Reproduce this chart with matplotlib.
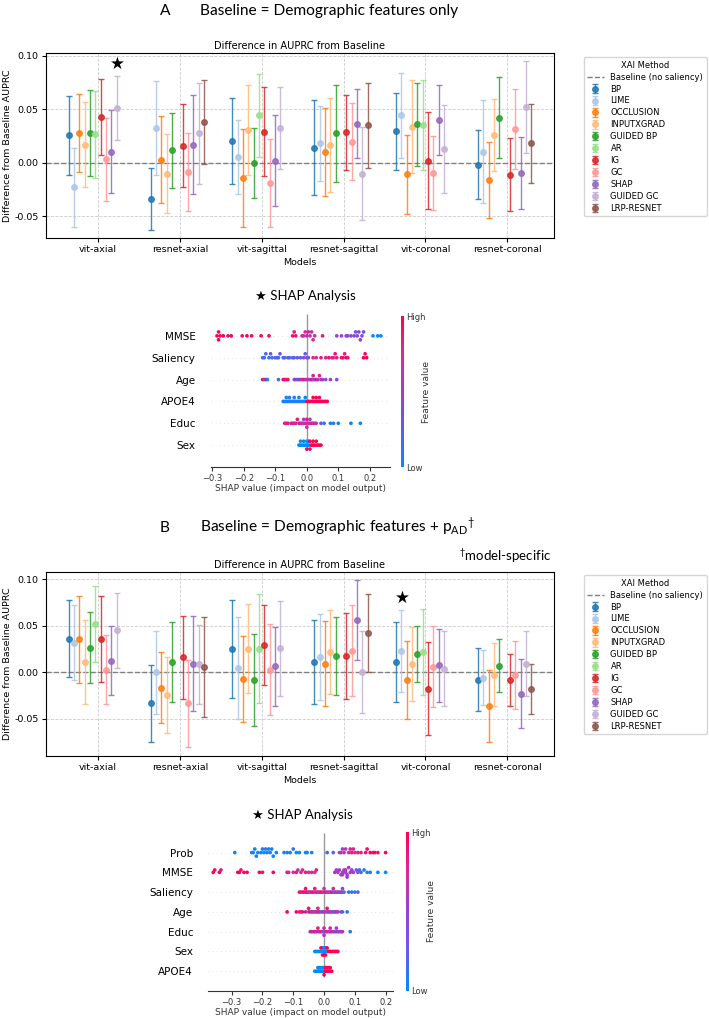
import numpy as np
import matplotlib
matplotlib.use("Agg")
import matplotlib.pyplot as plt
from matplotlib.colors import LinearSegmentedColormap
from matplotlib.cm import ScalarMappable
from matplotlib.ticker import MultipleLocator, FormatStrFormatter

plt.rcParams['mathtext.fontset'] = 'custom'
plt.rcParams['mathtext.rm'] = 'Lato'
plt.rcParams['mathtext.it'] = 'Lato:italic'

# ---- bar chart data (difference in AUPRC, mean and CI half width) ----
models = ['vit-axial', 'resnet-axial', 'vit-sagittal', 'resnet-sagittal', 'vit-coronal', 'resnet-coronal']
methods = ['BP', 'LIME', 'OCCLUSION', 'INPUTXGRAD', 'GUIDED BP', 'AR', 'IG', 'GC', 'SHAP', 'GUIDED GC', 'LRP-RESNET']
nan = np.nan

mean_a = [
    [0.0254, -0.0339, 0.0201, 0.0141, 0.0295, -0.0019],
    [-0.0232, 0.0323, 0.0056, 0.0179, 0.0442, 0.0103],
    [0.0273, 0.0028, -0.0144, 0.0097, -0.0110, -0.0163],
    [0.0169, -0.0103, 0.0301, 0.0163, 0.0335, 0.0260],
    [0.0279, 0.0116, -0.0006, 0.0273, 0.0357, 0.0420],
    [0.0263, nan, 0.0442, nan, 0.0348, nan],
    [0.0429, 0.0160, 0.0288, 0.0285, 0.0019, -0.0113],
    [0.0031, -0.0085, -0.0191, 0.0194, -0.0094, 0.0317],
    [0.0103, 0.0169, 0.0016, 0.0364, 0.0398, -0.0097],
    [0.0514, 0.0273, 0.0326, -0.0103, 0.0125, 0.0520],
    [nan, 0.0379, nan, 0.0351, nan, 0.0182],
]
err_a = [
    [0.037, 0.029, 0.040, 0.044, 0.036, 0.032],
    [0.037, 0.044, 0.0345, 0.035, 0.0395, 0.048],
    [0.0365, 0.041, 0.0456, 0.041, 0.0367, 0.0355],
    [0.040, 0.037, 0.042, 0.044, 0.0434, 0.0334],
    [0.040, 0.035, 0.0325, 0.045, 0.039, 0.038],
    [0.041, nan, 0.0385, nan, 0.042, nan],
    [0.0355, 0.0385, 0.0415, 0.035, 0.045, 0.034],
    [0.039, 0.0365, 0.041, 0.036, 0.0345, 0.0375],
    [0.039, 0.0464, 0.0425, 0.032, 0.033, 0.034],
    [0.030, 0.047, 0.0385, 0.0435, 0.041, 0.043],
    [nan, 0.039, nan, 0.0397, nan, 0.037],
]
mean_b = [
    [0.0361, -0.0336, 0.0246, 0.0111, 0.0114, -0.0082],
    [0.0318, 0.0000, 0.0046, 0.0164, 0.0225, -0.0057],
    [0.0354, -0.0168, -0.0071, 0.0093, -0.0082, -0.0368],
    [0.0111, -0.0243, 0.0253, 0.0218, 0.0089, -0.0025],
    [0.0264, 0.0111, -0.0082, 0.0175, 0.0196, 0.0071],
    [0.0518, nan, 0.0253, nan, 0.0214, nan],
    [0.0354, 0.0161, 0.0289, 0.0171, -0.0179, -0.0082],
    [0.0029, -0.0336, 0.0029, 0.0232, 0.0061, -0.0032],
    [0.0125, 0.0093, 0.0064, 0.0564, 0.0075, -0.0232],
    [0.0450, 0.0086, 0.0257, 0.0000, 0.0039, 0.0093],
    [nan, 0.0057, nan, 0.0421, nan, -0.0182],
]
err_b = [
    [0.041, 0.041, 0.0525, 0.045, 0.043, 0.034],
    [0.040, 0.0445, 0.055, 0.046, 0.044, 0.030],
    [0.047, 0.038, 0.046, 0.046, 0.042, 0.0387],
    [0.045, 0.041, 0.048, 0.045, 0.040, 0.0336],
    [0.038, 0.0433, 0.0495, 0.0423, 0.0304, 0.0286],
    [0.0405, nan, 0.0585, nan, 0.046, nan],
    [0.046, 0.0448, 0.043, 0.0463, 0.050, 0.0277],
    [0.037, 0.047, 0.0485, 0.049, 0.0437, 0.0366],
    [0.037, 0.0507, 0.0422, 0.0428, 0.039, 0.037],
    [0.040, 0.0425, 0.051, 0.044, 0.0407, 0.035],
    [nan, 0.0537, nan, 0.042, nan, 0.027],
]

# ---- SHAP beeswarm data: shap values and feature value (0 low .. 1 high) ----
feat_a = ['MMSE', 'Saliency', 'Age', 'APOE4', 'Educ', 'Sex']
shap_a = [
    [-0.285, -0.28, -0.28, -0.275, -0.265, -0.25, -0.24, -0.205, -0.19, -0.175, -0.145, -0.12,
     -0.045, -0.04, -0.035, -0.015, -0.01, -0.005, 0.0, 0.005, 0.01, 0.015, 0.02, 0.025, 0.05,
     0.095, 0.11, 0.125, 0.13, 0.14, 0.15, 0.155, 0.16, 0.165, 0.17, 0.175, 0.18, 0.21, 0.225, 0.235],
    [-0.14, -0.135, -0.13, -0.12, -0.115, -0.11, -0.1, -0.095, -0.09, -0.085, -0.075, -0.07, -0.06,
     -0.055, -0.045, -0.04, -0.03, -0.02, -0.01, -0.005, 0.0, 0.005, 0.02, 0.03, 0.045, 0.06, 0.07,
     0.08, 0.085, 0.09, 0.095, 0.11, 0.115, 0.12, 0.125, 0.13, 0.18, 0.185, 0.19],
    [-0.14, -0.135, -0.13, -0.125, -0.09, -0.075, -0.07, -0.065, -0.06, -0.04, -0.035, -0.03, -0.025,
     -0.02, -0.015, -0.01, -0.005, 0.0, 0.005, 0.01, 0.015, 0.02, 0.02, 0.025, 0.03, 0.035, 0.04,
     0.045, 0.05, 0.06, 0.075, 0.095],
    [-0.075, -0.07, -0.065, -0.06, -0.055, -0.05, -0.045, -0.04, -0.035, -0.03, -0.025, -0.02, -0.015,
     -0.01, -0.005, -0.005, -0.025, -0.04, -0.055, -0.065, 0.0, 0.005, 0.01, 0.015, 0.02, 0.025,
     0.03, 0.035, 0.04, 0.045, 0.05, 0.055, 0.06, 0.065, 0.04, 0.03, 0.02],
    [-0.07, -0.065, -0.06, -0.05, -0.045, -0.04, -0.035, -0.03, -0.025, -0.02, -0.015, -0.01, -0.005,
     0.0, 0.0, 0.005, 0.01, 0.015, 0.02, 0.025, 0.03, -0.01, 0.0, 0.01, 0.045, 0.055, 0.075, 0.085,
     0.1, 0.14, 0.17],
    [-0.025, -0.02, -0.015, -0.01, -0.005, 0.0, 0.005, 0.01, -0.02, -0.01, 0.0, 0.005,
     0.0, 0.01, 0.015, 0.02, 0.025, 0.03, 0.035, 0.04, 0.045, 0.01, 0.02, 0.03],
]
fval_a = [
    [1.0, 0.95, 1.0, 0.95, 1.0, 0.95, 1.0, 0.95, 1.0, 0.95, 1.0, 0.95,
     0.9, 0.85, 0.9, 0.8, 0.7, 0.75, 0.65, 0.8, 0.7, 0.6, 0.75, 0.7, 0.85,
     0.5, 0.45, 0.4, 0.45, 0.35, 0.4, 0.3, 0.45, 0.35, 0.4, 0.3, 0.35, 0.05, 0.0, 0.0],
    [0.1, 0.15, 0.2, 0.1, 0.3, 0.15, 0.2, 0.25, 0.1, 0.3, 0.2, 0.15, 0.35, 0.2, 0.25, 0.1, 0.3, 0.2,
     0.35, 0.25, 0.3, 0.4, 0.8, 0.75, 0.85, 0.8, 0.9, 0.85, 0.75, 0.9, 0.8, 0.95, 0.9, 0.85, 1.0,
     0.9, 1.0, 0.95, 1.0],
    [1.0, 0.1, 0.9, 0.1, 0.1, 0.9, 0.95, 0.85, 0.9, 0.2, 0.8, 0.1, 0.7, 0.85, 0.3, 0.9, 0.6, 0.8,
     0.2, 0.7, 0.9, 0.5, 0.8, 0.3, 0.9, 0.7, 0.8, 0.6, 0.5, 0.4, 0.45, 0.35],
    [0.05, 0.0, 0.1, 0.05, 0.0, 0.05, 0.1, 0.0, 0.05, 0.0, 0.1, 0.05, 0.0, 0.05, 0.1, 0.0, 0.05,
     0.0, 0.1, 0.05, 1.0, 0.95, 1.0, 0.95, 1.0, 1.0, 0.95, 1.0, 0.95, 1.0, 1.0, 0.95, 1.0, 1.0,
     0.95, 1.0, 1.0],
    [0.9, 0.8, 0.85, 0.7, 0.9, 0.6, 0.8, 0.85, 0.7, 0.9, 0.6, 0.75, 0.65, 0.8, 0.9, 0.7, 0.6, 0.85,
     0.7, 0.8, 0.65, 0.55, 0.75, 0.6, 0.3, 0.1, 0.05, 0.1, 0.0, 0.05, 0.0],
    [0.0] * 12 + [1.0] * 12,
]

feat_b = ['Prob', 'MMSE', 'Saliency', 'Age', 'Educ', 'Sex', 'APOE4']
shap_b = [
    [-0.29, -0.235, -0.23, -0.225, -0.22, -0.215, -0.205, -0.2, -0.195, -0.19, -0.185, -0.18, -0.175,
     -0.17, -0.165, -0.155, -0.13, -0.12, -0.11, -0.1, -0.09, -0.08, -0.06, -0.055, -0.04,
     0.01, 0.03, 0.05, 0.055, 0.06, 0.065, 0.07, 0.08, 0.085, 0.09, 0.095, 0.1, 0.11, 0.12,
     0.135, 0.14, 0.15, 0.16, 0.165, 0.175, 0.2],
    [-0.36, -0.355, -0.34, -0.335, -0.28, -0.275, -0.27, -0.26, -0.25, -0.21, -0.2, -0.165,
     -0.12, -0.115, -0.1, -0.09, -0.085, -0.075, -0.07, -0.06, -0.05, -0.04, -0.03, -0.025,
     0.035, 0.04, 0.045, 0.05, 0.055, 0.06, 0.065, 0.07, 0.07, 0.075, 0.08, 0.085, 0.09, 0.095,
     0.06, 0.075, 0.105, 0.11, 0.115, 0.12, 0.13, 0.14, 0.15, 0.175, 0.2],
    [-0.08, -0.075, -0.07, -0.065, -0.06, -0.055, -0.05, -0.045, -0.04, -0.035, -0.03, -0.025,
     -0.02, -0.015, -0.01, -0.005, 0.0, 0.005, 0.01, 0.015, 0.02, 0.025, 0.03, 0.035, 0.04,
     0.045, 0.05, 0.055, 0.06, -0.06, -0.03, 0.0, 0.03, 0.06, 0.065, 0.08, 0.09, 0.1, 0.11],
    [-0.12, -0.09, -0.08, -0.075, -0.07, -0.06, -0.05, -0.045, -0.04, -0.035, -0.03, -0.025, -0.02,
     -0.015, -0.01, -0.005, 0.0, 0.005, 0.01, 0.015, 0.02, 0.025, 0.03, 0.035, 0.04, 0.045, 0.055,
     0.06, 0.075, -0.05, -0.02, 0.01],
    [-0.045, -0.04, -0.035, -0.03, -0.025, -0.02, -0.015, -0.01, -0.005, 0.0, 0.0, 0.005, 0.01,
     0.015, 0.02, 0.025, 0.03, 0.035, 0.04, 0.045, 0.05, 0.055, 0.06, -0.02, 0.0, 0.02, 0.04, 0.085],
    [-0.03, -0.025, -0.02, -0.015, -0.01, -0.005, 0.0, 0.005, 0.01, -0.005, 0.0, 0.005,
     -0.01, -0.005, 0.0, 0.005, 0.01, 0.015, 0.02, 0.025, 0.03, 0.035, 0.04, 0.045],
    [-0.03, -0.025, -0.02, -0.015, -0.01, -0.005, 0.0, -0.02, -0.01, 0.0, -0.015, -0.005,
     0.0, 0.005, 0.01, 0.015, 0.02, 0.025, 0.01, 0.02, 0.015, 0.005],
]
fval_b = [
    [0.0, 0.05, 0.1, 0.0, 0.05, 0.1, 0.0, 0.05, 0.0, 0.1, 0.05, 0.0, 0.1, 0.05, 0.0, 0.05, 0.1, 0.0,
     0.05, 0.1, 0.0, 0.05, 0.1, 0.0, 0.05, 0.15, 0.2, 0.5, 0.6, 0.55, 0.65, 0.6, 0.75, 0.8, 0.85,
     0.8, 0.75, 0.85, 0.8, 0.9, 0.95, 1.0, 0.95, 1.0, 0.9, 1.0],
    [1.0, 0.95, 1.0, 0.9, 1.0, 0.95, 0.9, 1.0, 0.95, 1.0, 0.9, 0.95,
     0.85, 0.8, 0.75, 0.85, 0.7, 0.8, 0.75, 0.85, 0.7, 0.8, 0.75, 0.85,
     0.5, 0.55, 0.6, 0.5, 0.55, 0.6, 0.5, 0.55, 0.6, 0.5, 0.55, 0.6, 0.5, 0.55, 0.6, 0.5,
     0.3, 0.25, 0.2, 0.15, 0.1, 0.05, 0.1, 0.0, 0.0],
    [0.9, 0.85, 0.8, 0.95, 0.85, 0.9, 0.8, 0.6, 0.85, 0.9, 0.55, 0.8, 0.85, 0.6, 0.9, 0.8, 0.55,
     0.85, 0.6, 0.8, 0.2, 0.85, 0.55, 0.2, 0.8, 0.6, 0.15, 0.8, 0.2, 0.9, 0.85, 0.6, 0.8, 0.55,
     0.2, 0.1, 0.15, 0.1, 0.2],
    [1.0, 0.95, 0.85, 0.8, 0.9, 0.85, 0.15, 0.9, 0.75, 0.8, 0.2, 0.85, 0.7, 0.9, 0.15, 0.8, 0.6,
     0.75, 0.2, 0.85, 0.5, 0.7, 0.1, 0.6, 0.8, 0.5, 0.4, 0.15, 0.1, 0.9, 0.8, 0.9],
    [0.6, 0.85, 0.55, 0.9, 0.6, 0.8, 0.55, 0.85, 0.6, 0.1, 0.8, 0.55, 0.85, 0.6, 0.55, 0.8, 0.6,
     0.55, 0.1, 0.6, 0.55, 0.65, 0.55, 0.85, 0.6, 0.8, 0.55, 0.1],
    [0.0] * 12 + [1.0] * 12,
    [0.0] * 12 + [1.0] * 10,
]

# ---- layout helpers (pixel boxes of the 709x1018 picture) ----
W, H = 709, 1018


def box(x0, y0, x1, y1):
    return [x0 / W, 1 - y1 / H, (x1 - x0) / W, (y1 - y0) / H]


def fx(x):
    return x / W


def fy(y):
    return 1 - y / H


colors = list(plt.get_cmap('tab20').colors[:11])
shap_cmap = LinearSegmentedColormap.from_list(
    'shap_rb', ['#008bfb', '#6a5ae8', '#9b3fd0', '#d52c9c', '#ff0052'])
lato = ['Lato', 'DejaVu Sans']


def draw_bars(ax, means, errs, leg_y):
    x = np.arange(len(models))
    n = len(methods)
    ax.axhline(0, color='gray', ls='--', lw=1, label='Baseline (no saliency)')
    for i, m in enumerate(methods):
        off = (i - n / 2) * 0.065
        ax.errorbar(x + off, means[i], yerr=errs[i], fmt='o', color=colors[i], label=m,
                    capsize=2.5, ms=4, elinewidth=1, capthick=1, alpha=0.85)
    ax.set_xticks(x)
    ax.set_xticklabels(models)
    ax.set_xlim(-0.64, 5.575)
    ax.yaxis.set_major_locator(MultipleLocator(0.05))
    ax.yaxis.set_major_formatter(FormatStrFormatter('%.2f'))
    ax.grid(True, ls='--', lw=0.6, color='#cccccc')
    ax.set_axisbelow(True)
    ax.tick_params(labelsize=6.8, length=3, pad=2)
    ax.set_xlabel('Models', fontsize=6.8, labelpad=3)
    ax.set_ylabel('Difference from Baseline AUPRC', fontsize=6.8, labelpad=2)
    ax.set_title('Difference in AUPRC from Baseline', fontsize=7.1, pad=3)
    ax.legend(title='XAI Method', loc='upper left', bbox_to_anchor=(1.058, leg_y),
              borderaxespad=0, fontsize=6, title_fontsize=6, labelspacing=0.35)


def swarm(v, nbins=45):
    # shap style beeswarm offsets
    quant = np.round(nbins * (v - v.min()) / (v.max() - v.min() + 1e-8))
    inds = np.argsort(quant, kind='stable')
    layer = 0
    last = -1
    ys = np.zeros(len(v))
    for ind in inds:
        if quant[ind] != last:
            layer = 0
        ys[ind] = np.ceil(layer / 2) * ((layer % 2) * 2 - 1)
        layer += 1
        last = quant[ind]
    ys *= 0.9 * (0.4 / np.max(ys + 1))
    return ys


def draw_shap(ax, cax, names, vals, fvals, xlim, line_bottom):
    n = len(names)
    for k in range(n):
        pos = n - 1 - k
        v = np.array(vals[k])
        c = np.array(fvals[k])
        ax.axhline(pos, color='#cccccc', lw=0.5, dashes=(1, 5), zorder=-1)
        ax.scatter(v, pos + swarm(v), c=c, cmap=shap_cmap, vmin=0, vmax=1, s=7,
                   linewidths=0, zorder=3)
    ax.vlines(0, line_bottom, n, color='#999999', lw=1, zorder=-1)
    ax.set_ylim(-1, n)
    ax.set_xlim(*xlim)
    ax.set_yticks(range(n))
    ax.set_yticklabels(names[::-1], fontsize=7.5)
    ax.tick_params('y', length=0, pad=11)
    ax.tick_params('x', labelsize=6, colors='#333333', length=3, pad=2)
    for s in ['left', 'top', 'right']:
        ax.spines[s].set_visible(False)
    ax.spines['bottom'].set_color('#333333')
    ax.set_xlabel('SHAP value (impact on model output)', fontsize=6.5, color='#333333', labelpad=1)
    cb = fig.colorbar(ScalarMappable(cmap=shap_cmap), cax=cax, ticks=[0, 1])
    cb.set_ticklabels(['Low', 'High'])
    cb.outline.set_visible(False)
    cax.tick_params(length=0, labelsize=6, colors='#333333', pad=2)
    cb.set_label('Feature value', fontsize=6.5, color='#333333', labelpad=-3)


fig = plt.figure(figsize=(W / 100, H / 100), dpi=100)

# panel A
fig.text(fx(160), fy(15), 'A', fontsize=11.2, family=lato, va='baseline')
fig.text(fx(200), fy(15), 'Baseline = Demographic features only', fontsize=11.2,
         family=lato, va='baseline')
ax_a = fig.add_axes(box(45.7, 53.3, 554.3, 237.7))
draw_bars(ax_a, mean_a, err_a, 0.978)
ax_a.set_ylim(-0.0702, 0.1022)
fig.text(fx(117), fy(64), '★', fontsize=12, ha='center', va='center')

fig.text(fx(255), fy(296), '★ SHAP Analysis', fontsize=9.5, family=lato, va='center')
ax_sa = fig.add_axes(box(211, 314, 390, 467))
cax_a = fig.add_axes(box(401, 316, 403.5, 467))
draw_shap(ax_sa, cax_a, feat_a, shap_a, fval_a, (-0.304, 0.264), -0.2)

# panel B
fig.text(fx(160), fy(532), 'B', fontsize=11.2, family=lato, va='baseline')
fig.text(fx(200), fy(532), r'Baseline = Demographic features + p$_{\mathrm{AD}}$$^{\dagger}$',
         fontsize=11.2, family=lato, va='baseline')
fig.text(fx(551), fy(556), r'$^{\dagger}$model-specific', fontsize=9.5, family=lato,
         ha='right', va='center')
ax_b = fig.add_axes(box(45.7, 571.7, 554.3, 755.7))
draw_bars(ax_b, mean_b, err_b, 0.98)
ax_b.set_ylim(-0.0897, 0.108)
fig.text(fx(402), fy(598), '★', fontsize=12, ha='center', va='center')

fig.text(fx(252), fy(815), '★ SHAP Analysis', fontsize=9.5, family=lato, va='center')
ax_sb = fig.add_axes(box(208.3, 832.8, 393.3, 991))
cax_b = fig.add_axes(box(406, 832, 408.5, 991))
draw_shap(ax_sb, cax_b, feat_b, shap_b, fval_b, (-0.376, 0.225), -0.3)

fig.savefig('out.png', dpi=100)
